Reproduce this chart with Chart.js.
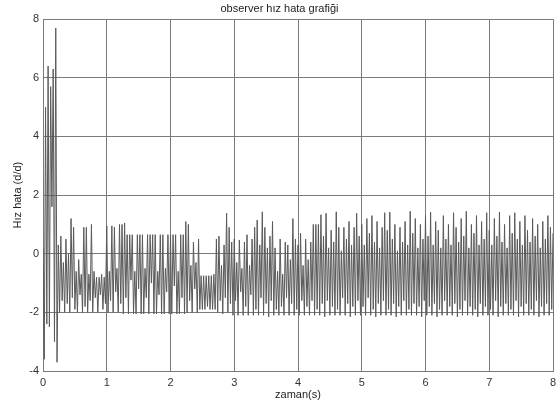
<!DOCTYPE html>
<html>
<head>
<meta charset="utf-8">
<script src="https://cdn.jsdelivr.net/npm/chart.js@4/dist/chart.umd.min.js"></script>
<style>
  html, body { margin: 0; padding: 0; background: #fff; }
  #holder { width: 559px; height: 408px; }
</style>
</head>
<body>
<div id="holder"><canvas id="hata"></canvas></div>
<script>
// sampling step of the observer output (s)
const sampleStep = 0.02;

// hız hata values, one small list per second
const sec0 = [0.2, -3.6, 5.0, -2.4, 6.4, -2.5, 5.7, 1.6, 6.3, -3.0,
  7.7, -3.7, 0.3, -2.0, 0.6, -1.6, -0.3, -2.0, 0.5, -1.7,
  0.0, -2.0, 1.2, -1.5, 0.9, -1.9, -0.6, -2.0, -0.2, -1.4,
  -0.7, -2.0, 0.9, -1.8, 0.9, -2.0, -0.7, -1.6, 1.0, -2.0,
  -0.6, -1.5, -0.8, -2.0, -0.8, -1.4, -0.7, -1.9, -0.8, -1.7];
const sec1 = [0.95, -2.0, -0.6, -1.6, 0.95, -2.0, 0.9, -1.3, -0.5, -2.0,
  1.0, -1.7, 1.0, -2.05, 1.05, -1.5, 0.65, -2.05, 0.65, -0.9,
  0.65, -2.05, -0.6, -2.05, 0.65, -1.2, 0.65, -2.05, 0.65, -2.05,
  -0.5, -1.5, 0.65, -2.05, 0.65, -1.0, 0.65, -2.05, 0.65, -2.05,
  -0.6, -1.4, 0.65, -2.05, 0.65, -2.05, -0.5, -1.3, 0.65, -2.05];
const sec2 = [0.65, -2.05, 0.65, -1.1, 0.65, -2.05, -0.6, -2.05, 0.65, -1.5,
  0.65, -2.05, 1.1, -2.0, 1.0, -1.6, -0.4, -2.0, 0.4, -1.2,
  -0.3, -2.0, 0.5, -1.9, -0.75, -1.9, -0.75, -1.9, -0.75, -1.8,
  -0.75, -1.9, -0.75, -1.9, -0.7, -1.9, 0.5, -2.0, 0.6, -1.6,
  -0.4, -2.05, 0.3, -1.5, 1.38, -2.0, 0.9, -1.7, 0.4, -2.1];
const sec3 = [0.5, -1.6, -0.3, -2.1, 0.47, -1.3, -0.5, -2.1, 0.4, -1.8,
  0.65, -2.1, -0.4, -1.4, 0.5, -2.1, 0.9, -1.9, 1.15, -2.1,
  0.3, -1.5, 1.43, -2.1, 0.9, -1.7, 0.2, -2.15, 0.6, -1.6,
  1.1, -2.1, 0.2, -1.9, -0.6, -2.1, 0.5, -1.8, -0.7, -2.1,
  0.4, -1.5, 0.3, -2.1, -0.2, -1.7, 1.2, -2.1, 0.5, -1.9];
const sec4 = [0.3, -2.1, 0.7, -1.6, -0.4, -2.1, 0.5, -1.8, -0.2, -2.1,
  0.4, -1.6, 1.0, -2.1, 1.0, -1.9, 1.0, -2.1, 1.33, -1.7,
  0.6, -2.15, 1.38, -1.6, 0.2, -2.1, 0.8, -1.8, 0.4, -2.1,
  1.43, -1.9, 0.9, -2.1, 0.1, -1.5, 0.9, -2.1, 0.5, -1.7,
  1.1, -2.15, 0.3, -1.8, 0.9, -2.1, 1.38, -1.6, 0.6, -2.1];
const sec5 = [1.0, -1.8, 0.3, -2.1, 1.2, -1.5, 0.7, -2.1, 1.3, -1.9,
  0.4, -2.15, 1.1, -1.7, 0.2, -2.1, 0.9, -1.6, 1.4, -2.1,
  0.8, -1.9, 1.42, -2.1, 0.5, -1.7, 1.0, -2.15, 0.1, -1.8,
  0.9, -2.1, 0.4, -1.6, 1.1, -2.1, 0.3, -1.9, 1.45, -2.1,
  0.7, -1.7, 1.2, -2.1, 0.2, -1.8, 1.0, -2.15, 0.5, -1.6];
const sec6 = [1.3, -2.1, 0.6, -1.8, 1.42, -2.1, 0.3, -1.7, 1.1, -2.15,
  0.8, -1.9, 0.2, -2.1, 1.3, -1.6, 0.5, -2.1, 1.0, -1.8,
  0.3, -2.1, 1.4, -1.7, 0.9, -2.15, 0.4, -1.9, 1.2, -2.1,
  0.6, -1.6, 1.45, -2.1, 0.2, -1.8, 1.0, -2.1, 0.7, -1.9,
  1.3, -2.15, 0.3, -1.7, 1.1, -2.1, 0.5, -1.8, 1.4, -2.1];
const sec7 = [0.8, -1.9, 0.3, -2.1, 1.2, -1.6, 0.6, -2.15, 1.42, -1.8,
  0.4, -2.1, 1.0, -1.7, 0.2, -2.1, 1.3, -1.9, 0.7, -2.1,
  1.4, -1.6, 0.5, -2.15, 1.1, -1.8, 0.3, -2.1, 1.3, -1.7,
  0.8, -2.1, 0.4, -1.9, 1.2, -2.1, 0.6, -1.6, 1.0, -2.15,
  0.2, -1.8, 1.1, -2.1, 0.5, -1.7, 1.3, -2.1, 0.9, -1.9, 0.7];

const xTicks = [0, 1, 2, 3, 4, 5, 6, 7, 8];
const yTicks = [-4, -2, 0, 2, 4, 6, 8];

const hizHata = [].concat(sec0, sec1, sec2, sec3, sec4, sec5, sec6, sec7);
const points = hizHata.map((v, i) => ({ x: +(i * sampleStep).toFixed(2), y: v }));

const fontFam = '"Liberation Sans", Arial, Helvetica, sans-serif';
const inkColor = '#333';
const gridColor = '#7a7a7a';

new Chart(document.getElementById('hata'), {
  type: 'line',
  data: {
    datasets: [{
      data: points,
      borderColor: '#5a5a5a',
      borderWidth: 1,
      pointRadius: 0,
      tension: 0,
      fill: false
    }]
  },
  options: {
    responsive: true,
    maintainAspectRatio: false,
    animation: false,
    layout: { padding: 0 },
    plugins: {
      legend: { display: false },
      tooltip: { enabled: false },
      title: {
        display: true,
        text: 'observer hız hata grafiği',
        color: '#222',
        font: { family: fontFam, size: 11, weight: 'normal' },
        padding: { top: 2, bottom: 4 }
      }
    },
    scales: {
      x: {
        type: 'linear',
        min: 0,
        max: 8,
        afterBuildTicks: s => { s.ticks = xTicks.map(v => ({ value: v })); },
        afterFit: s => { s.height = 37; s.paddingLeft = 0; s.paddingRight = 6; },
        grid: { color: gridColor, lineWidth: 1, drawTicks: false },
        border: { color: gridColor, width: 1 },
        ticks: { color: inkColor, padding: 5, font: { family: fontFam, size: 11 } },
        title: {
          display: true,
          text: 'zaman(s)',
          color: '#222',
          font: { family: fontFam, size: 11 },
          padding: { top: 0, bottom: 6 }
        }
      },
      y: {
        min: -4,
        max: 8,
        afterBuildTicks: s => { s.ticks = yTicks.map(v => ({ value: v })); },
        afterFit: s => { s.width = 43; },
        grid: { color: gridColor, lineWidth: 1, drawTicks: false },
        border: { color: gridColor, width: 1 },
        ticks: { color: inkColor, padding: 4, font: { family: fontFam, size: 11 } },
        title: {
          display: true,
          text: 'Hız hata (d/d)',
          color: '#222',
          font: { family: fontFam, size: 11 },
          padding: { top: 11, bottom: 0 }
        }
      }
    }
  }
});
</script>
</body>
</html>
